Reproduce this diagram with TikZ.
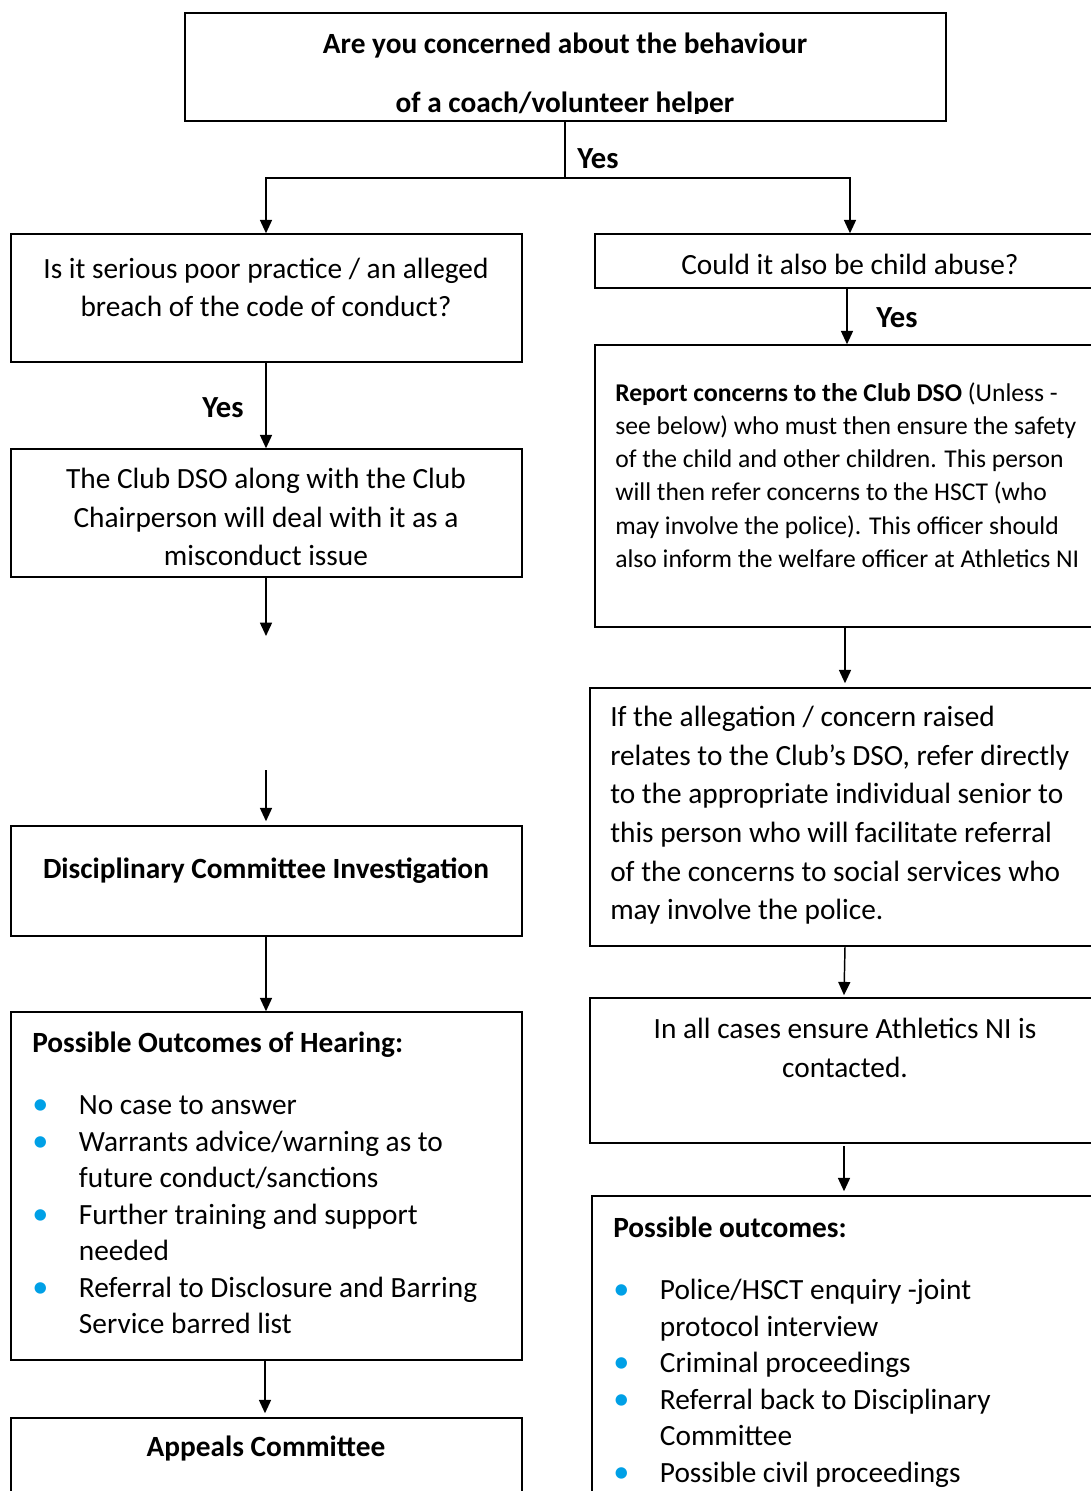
\documentclass[tikz,border=0pt]{standalone}
\usepackage{fontspec}
\setmainfont{Carlito}
\usetikzlibrary{positioning,fit,arrows.meta}
\definecolor{dotblue}{RGB}{0,160,230}
\newcommand{\bul}{\textcolor{dotblue}{\scalebox{1.1}{\textbullet}}}

\begin{document}
\begin{tikzpicture}
    [
    x=0.75pt,y=-0.75pt,
    box/.style={draw,line width=1.1pt,inner sep=0pt,fit={#1}},
    arrow/.style={line width=1.1pt,-{Triangle[length=10pt,width=9pt]}},
    plain/.style={line width=1.1pt},
    txt/.style={font=\fontsize{22}{29}\selectfont,align=center,inner sep=0pt},
    small/.style={font=\fontsize{19.2}{24.9}\selectfont,align=left,inner sep=0pt},
    yes/.style={font=\fontsize{23}{26}\selectfont\bfseries,inner sep=0pt},
    list/.style={anchor=north west,inner sep=0pt,font=\fontsize{22}{27.4}\selectfont},
    ]
    \useasboundingbox (0,0) rectangle (1091,1491);

    \node (question) [box={(185,13) (946,121)}] {};
    \begin{scope}
    \clip (185,13) rectangle (946,114);
    \node (questiontext) at (565,75) [inner sep=0pt,align=center,font=\fontsize{22}{44.25}\selectfont\bfseries]
        {Are you concerned about the behaviour\\of a coach/volunteer helper};
    \end{scope}
    \coordinate (split) at (565,178);
    \node (yes1) at (598,159) [yes] {Yes};

    \node (serious) [box={(11,234) (522,362)}] {};
    \node (serioustext) at (266,287.5) [txt] {Is it serious poor practice / an alleged\\breach of the code of conduct?};
    \node (yes2) at (223,408) [yes] {Yes};

    \node (conduct) [box={(11,449) (522,577)}] {};
    \node (conducttext) at (266,517) [txt] {The Club DSO along with the Club\\Chairperson will deal with it as a\\misconduct issue};
    \coordinate (gapend) at (266,636);
    \coordinate (gapstart) at (266,770);

    \node (investigation) [box={(11,826) (522,936)}] {};
    \node (investigationtext) at (266,871) [txt,font=\fontsize{22}{29}\selectfont\bfseries] {Disciplinary Committee Investigation};

    \node (hearing) [box={(11,1012) (522,1360)}] {};
    \node (hearingtext) at (32,1027) [list]
        {\begin{tabular}{@{}p{35pt}@{}l@{}}
        \multicolumn{2}{@{}l}{\bfseries Possible Outcomes of Hearing:}\\[19pt]
        \bul & No case to answer\\
        \bul & Warrants advice/warning as to\\
             & future conduct/sanctions\\
        \bul & Further training and support\\
             & needed\\
        \bul & Referral to Disclosure and Barring\\
             & Service barred list
        \end{tabular}};

    \node (appeals) [box={(11,1418) (522,1500)}] {};
    \node (appealstext) at (266,1448) [txt,font=\fontsize{22}{29}\selectfont\bfseries] {Appeals Committee};

    \node (abuse) [box={(595,234) (1105,288)}] {};
    \node (abusetext) at (850,264) [txt] {Could it also be child abuse?};
    \node (yes3) at (897,318) [yes] {Yes};

    \node (report) [box={(595,345) (1099,627)}] {};
    \node (reporttext) at (615,475) [anchor=west,small]
        {\textbf{Report concerns to the Club DSO} (Unless -\\see below) who must then ensure the safety\\of the child and other children. This person\\will then refer concerns to the HSCT (who\\may involve the police). This officer should\\also inform the welfare officer at Athletics NI};

    \node (refer) [box={(590,688) (1100,946)}] {};
    \node (refertext) at (610,815.5) [anchor=west,txt,align=left]
        {If the allegation / concern raised\\relates to the Club’s DSO, refer directly\\to the appropriate individual senior to\\this person who will facilitate referral\\of the concerns to social services who\\may involve the police.};

    \node (contact) [box={(590,998) (1098,1143)}] {};
    \node (contacttext) at (845,1048) [txt] {In all cases ensure Athletics NI is\\contacted.};

    \node (outcomes) [box={(592,1196) (1096,1500)}] {};
    \node (outcomestext) at (613,1212) [list]
        {\begin{tabular}{@{}p{35pt}@{}l@{}}
        \multicolumn{2}{@{}l}{\bfseries Possible outcomes:}\\[19pt]
        \bul & Police/HSCT enquiry -joint\\
             & protocol interview\\
        \bul & Criminal proceedings\\
        \bul & Referral back to Disciplinary\\
             & Committee\\
        \bul & Possible civil proceedings
        \end{tabular}};

    \draw [plain] (question.south -| split) -- (split);
    \draw [arrow] (split) -| (serious.north -| gapend);
    \draw [arrow] (split) -| (abuse.north);
    \draw [arrow] (serious.south -| gapend) -- (conduct.north -| gapend);
    \draw [arrow] (conduct.south -| gapend) -- (gapend);
    \draw [arrow] (gapstart) -- ([yshift=3pt]investigation.north -| gapstart);
    \draw [arrow] (investigation.south -| gapend) -- (hearing.north -| gapend);
    \draw [arrow] ([xshift=-0.75pt]hearing.south -| gapend) -- ([xshift=-0.75pt,yshift=3pt]appeals.north -| gapend);
    \draw [arrow] (abuse.south -| report.north) -- (report.north);
    \draw [arrow] (report.south -| refer.north) -- ([yshift=3pt]refer.north);
    \draw [arrow] (refer.south) -- ([yshift=1.5pt]contact.north);
    \draw [arrow] ([yshift=-2pt]contact.south) -- ([yshift=3pt]outcomes.north);
\end{tikzpicture}
\end{document}
